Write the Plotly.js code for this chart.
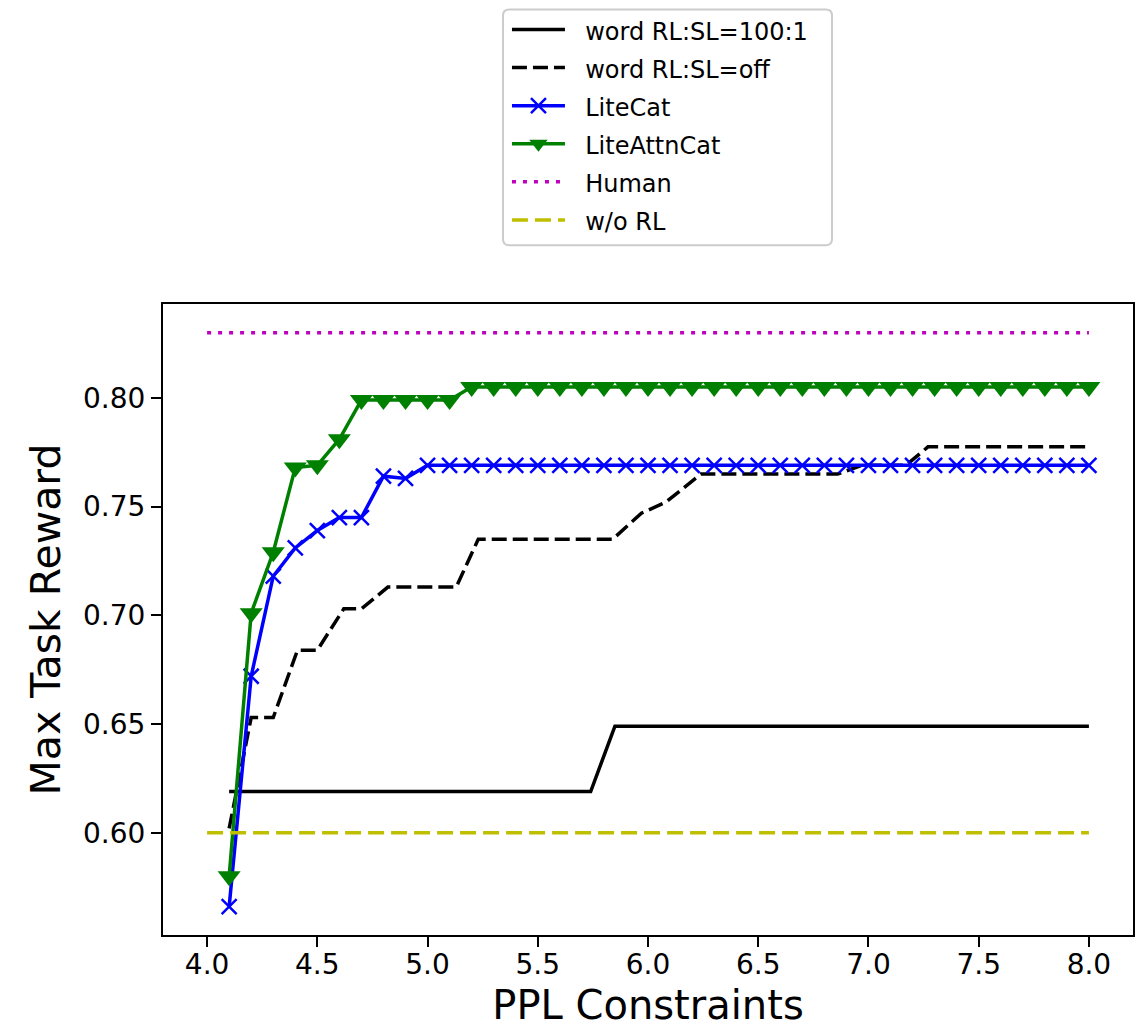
<!DOCTYPE html>
<html><head><meta charset="utf-8">
<script src="https://cdn.plot.ly/plotly-3.0.1.min.js"></script>
<style>html,body{margin:0;padding:0;background:#fff}#chart{width:1138px;height:1028px}</style>
</head><body><div id="chart"></div>
<script>
const seriesNames = ["word RL:SL=100:1", "word RL:SL=off", "LiteCat", "LiteAttnCat", "Human", "w/o RL"];

const pplGrid = [4.1, 4.2, 4.3, 4.4, 4.5, 4.6, 4.7, 4.8, 4.9, 5.0,
                 5.1, 5.2, 5.3, 5.4, 5.5, 5.6, 5.7, 5.8, 5.9, 6.0,
                 6.1, 6.2, 6.3, 6.4, 6.5, 6.6, 6.7, 6.8, 6.9, 7.0,
                 7.1, 7.2, 7.3, 7.4, 7.5, 7.6, 7.7, 7.8, 7.9, 8.0];

const liteCatReward = [0.566, 0.672, 0.718, 0.731, 0.739, 0.745, 0.745, 0.764, 0.763, 0.769,
                       0.769, 0.769, 0.769, 0.769, 0.769, 0.769, 0.769, 0.769, 0.769, 0.769,
                       0.769, 0.769, 0.769, 0.769, 0.769, 0.769, 0.769, 0.769, 0.769, 0.769,
                       0.769, 0.769, 0.769, 0.769, 0.769, 0.769, 0.769, 0.769, 0.769, 0.769];

const liteAttnCatReward = [0.580, 0.701, 0.729, 0.768, 0.769, 0.781, 0.799, 0.799, 0.799, 0.799,
                           0.799, 0.805, 0.805, 0.805, 0.805, 0.805, 0.805, 0.805, 0.805, 0.805,
                           0.805, 0.805, 0.805, 0.805, 0.805, 0.805, 0.805, 0.805, 0.805, 0.805,
                           0.805, 0.805, 0.805, 0.805, 0.805, 0.805, 0.805, 0.805, 0.805, 0.805];

const rlSl100X = [4.1, 5.74, 5.85, 8.0];
const rlSl100Y = [0.619, 0.619, 0.649, 0.649];

const rlSlOffX = [4.1, 4.2, 4.3, 4.41, 4.5, 4.62, 4.7, 4.82, 5.13, 5.23,
                  5.84, 5.97, 6.08, 6.24, 6.86, 6.97, 7.17, 7.27, 8.0];
const rlSlOffY = [0.602, 0.653, 0.653, 0.684, 0.684, 0.703, 0.703, 0.713, 0.713, 0.735,
                  0.735, 0.747, 0.752, 0.765, 0.765, 0.769, 0.769, 0.7775, 0.7775];

const refX = [4.0, 8.0];
const humanReward = [0.83, 0.83];
const noRlReward = [0.60, 0.60];

const xTickVals = [4.0, 4.5, 5.0, 5.5, 6.0, 6.5, 7.0, 7.5, 8.0];
const xTickText = ["4.0", "4.5", "5.0", "5.5", "6.0", "6.5", "7.0", "7.5", "8.0"];
const yTickVals = [0.60, 0.65, 0.70, 0.75, 0.80];
const yTickText = ["0.60", "0.65", "0.70", "0.75", "0.80"];

const FONT = "DejaVu Sans, Liberation Sans, sans-serif";
const legendLabel = s => '<span style="font-size:24px">&nbsp;&nbsp;' + s + '</span>';

const traces = [
  {x: rlSl100X, y: rlSl100Y, name: legendLabel(seriesNames[0]), mode: "lines",
   line: {color: "#000000", width: 3.5}},
  {x: rlSlOffX, y: rlSlOffY, name: legendLabel(seriesNames[1]), mode: "lines",
   line: {color: "#000000", width: 3.5, dash: "15px,6px"}},
  {x: pplGrid, y: liteCatReward, name: legendLabel(seriesNames[2]), mode: "lines+markers",
   line: {color: "#0000ff", width: 3.5},
   marker: {symbol: "x-thin-open", size: 15, color: "#0000ff", line: {color: "#0000ff", width: 2.5}}},
  {x: pplGrid, y: liteAttnCatReward, name: legendLabel(seriesNames[3]), mode: "lines+markers",
   line: {color: "#008000", width: 3.5},
   marker: {symbol: "triangle-down", size: 20, color: "#008000", line: {width: 0}}},
  {x: refX, y: humanReward, name: legendLabel(seriesNames[4]), mode: "lines",
   line: {color: "#bf00bf", width: 3.5, dash: "4px,7px"}},
  {x: refX, y: noRlReward, name: legendLabel(seriesNames[5]), mode: "lines",
   line: {color: "#bfbf00", width: 3.5, dash: "16px,7px"}}
];

// legend frame (decoration), paper coordinates of the plot area
const bx0 = 0.3505, bx1 = 0.6897, by0 = 1.0931, by1 = 1.4669, rx = 0.0065, ry = 0.0100;
const legendFrame = {
  type: "path", xref: "paper", yref: "paper", layer: "below",
  path: `M${bx0+rx},${by1} L${bx1-rx},${by1} Q${bx1},${by1} ${bx1},${by1-ry} L${bx1},${by0+ry} Q${bx1},${by0} ${bx1-rx},${by0} L${bx0+rx},${by0} Q${bx0},${by0} ${bx0},${by0+ry} L${bx0},${by1-ry} Q${bx0},${by1} ${bx0+rx},${by1} Z`,
  line: {color: "#cccccc", width: 2}, fillcolor: "#ffffff"
};

const layout = {
  width: 1138, height: 1028,
  margin: {l: 163, r: 5, t: 301, b: 93, pad: 0},
  paper_bgcolor: "#ffffff", plot_bgcolor: "#ffffff",
  font: {family: FONT, color: "#000000", size: 28},
  showlegend: true,
  shapes: [legendFrame],
  legend: {
    x: 0.3546, y: 1.4732, xanchor: "left", yanchor: "top",
    font: {family: FONT, size: 27, color: "#000000"},
    bgcolor: "rgba(255,255,255,0)", borderwidth: 0,
    itemwidth: 53
  },
  xaxis: {
    range: [3.8, 8.2], tickmode: "array", tickvals: xTickVals, ticktext: xTickText,
    ticks: "outside", ticklen: 10, tickwidth: 2, tickcolor: "#000000",
    showline: true, linecolor: "#000000", linewidth: 2, mirror: true,
    showgrid: false, zeroline: false, ticklabelstandoff: -7,
    tickfont: {family: FONT, size: 28, color: "#000000"},
    title: {text: "PPL Constraints", font: {family: FONT, size: 40, color: "#000000"}, standoff: 12}
  },
  yaxis: {
    range: [0.553, 0.8432], tickmode: "array", tickvals: yTickVals, ticktext: yTickText,
    ticks: "outside", ticklen: 10, tickwidth: 2, tickcolor: "#000000",
    showline: true, linecolor: "#000000", linewidth: 2, mirror: true,
    showgrid: false, zeroline: false,
    tickfont: {family: FONT, size: 28, color: "#000000"},
    title: {text: "Max Task Reward", font: {family: FONT, size: 41, color: "#000000"}, standoff: 10}
  }
};

Plotly.newPlot("chart", traces, layout, {displayModeBar: false, staticPlot: true});
</script>
</body></html>
